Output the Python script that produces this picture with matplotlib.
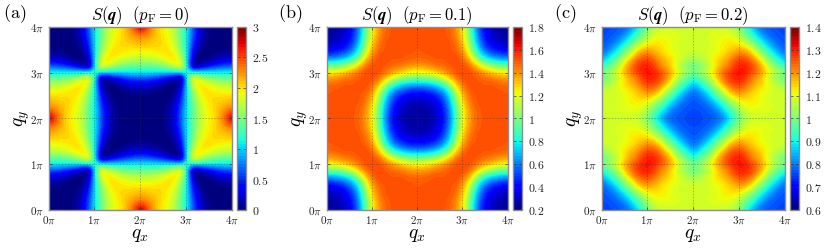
import numpy as np
import matplotlib
matplotlib.use("Agg")
import matplotlib.pyplot as plt

plt.rcParams['mathtext.fontset'] = 'cm'
plt.rcParams['font.family'] = 'serif'
plt.rcParams['font.serif'] = ['cmr10', 'DejaVu Serif']
plt.rcParams['axes.formatter.use_mathtext'] = True
plt.rcParams['axes.unicode_minus'] = False

# S(q) lu sur l'image, pas de pi/8 : lignes qy=0..pi, colonnes qx=0..2pi
# (le reste de la carte vient des symetries de la figure)
S_a = [
    [0, 0, 0, .02, .05, .13, .33, .68, 1.1, 1.38, 1.67, 1.85, 1.95, 2.05, 2.25, 2.55, 2.95],
    [0, 0, 0, .01, .04, .12, .31, .65, 1.1, 1.38, 1.68, 1.86, 1.95, 2.05, 2.2, 2.4, 2.55],
    [0, 0, 0, .005, .03, .1, .27, .6, 1.1, 1.4, 1.71, 1.88, 1.98, 2.05, 2.15, 2.2, 2.25],
    [.02, .01, .005, 0, .01, .06, .2, .52, 1.1, 1.445, 1.76, 1.92, 2.0, 2.05, 2.05, 2.1, 2.15],
    [.05, .04, .03, .01, 0, .02, .12, .42, 1.1, 1.51, 1.84, 1.97, 2.02, 2.0, 2.0, 2.0, 2.0],
    [.13, .12, .1, .06, .02, 0, .04, .3, 1.1, 1.625, 1.93, 2.02, 1.97, 1.92, 1.88, 1.86, 1.85],
    [.33, .31, .27, .2, .12, .04, 0, .14, 1.1, 1.81, 2.02, 1.93, 1.84, 1.76, 1.71, 1.68, 1.67],
    [.68, .65, .6, .52, .42, .3, .14, 0, 1.1, 2.0, 1.81, 1.625, 1.51, 1.445, 1.4, 1.38, 1.38],
    [1.1, 1.1, 1.1, 1.1, 1.1, 1.1, 1.1, 1.1, 1.3, 1.1, 1.1, 1.1, 1.1, 1.1, 1.1, 1.1, 1.1],
]
S_b = [
    [.25, .25, .27, .3, .37, .5, .7, 1.0, 1.23, 1.37, 1.46, 1.5, 1.5, 1.52, 1.5, 1.52, 1.52],
    [.25, .26, .27, .31, .38, .51, .72, 1.0, 1.24, 1.38, 1.47, 1.5, 1.52, 1.5, 1.52, 1.5, 1.5],
    [.27, .27, .29, .33, .4, .54, .76, 1.02, 1.27, 1.4, 1.48, 1.5, 1.52, 1.54, 1.5, 1.52, 1.5],
    [.3, .31, .33, .37, .45, .59, .8, 1.08, 1.31, 1.44, 1.5, 1.52, 1.5, 1.52, 1.5, 1.5, 1.5],
    [.37, .38, .4, .45, .53, .67, .88, 1.15, 1.36, 1.46, 1.5, 1.5, 1.54, 1.5, 1.52, 1.5, 1.5],
    [.5, .51, .54, .59, .67, .8, 1.0, 1.24, 1.42, 1.5, 1.52, 1.52, 1.5, 1.52, 1.5, 1.5, 1.5],
    [.72, .73, .76, .8, .88, 1.0, 1.2, 1.38, 1.48, 1.52, 1.54, 1.5, 1.5, 1.5, 1.48, 1.47, 1.46],
    [1.0, 1.0, 1.02, 1.08, 1.15, 1.24, 1.38, 1.47, 1.52, 1.52, 1.5, 1.48, 1.45, 1.44, 1.4, 1.38, 1.37],
    [1.23, 1.24, 1.27, 1.31, 1.36, 1.42, 1.48, 1.52, 1.53, 1.52, 1.48, 1.42, 1.36, 1.31, 1.27, 1.24, 1.23],
]
S_c = [
    [.76, .76, .76, .77, .78, .8, .86, .92, 1.0, 1.04, 1.07, 1.08, 1.08, 1.08, 1.08, 1.08, 1.08],
    [.76, .76, .77, .78, .8, .85, .91, .97, 1.03, 1.07, 1.09, 1.09, 1.09, 1.09, 1.08, 1.08, 1.08],
    [.76, .77, .78, .8, .84, .9, .96, 1.01, 1.06, 1.1, 1.11, 1.11, 1.1, 1.09, 1.09, 1.08, 1.08],
    [.77, .78, .8, .84, .9, .96, 1.02, 1.07, 1.12, 1.13, 1.13, 1.12, 1.1, 1.09, 1.08, 1.08, 1.08],
    [.78, .8, .84, .9, .97, 1.03, 1.1, 1.16, 1.18, 1.16, 1.14, 1.12, 1.1, 1.09, 1.08, 1.08, 1.08],
    [.8, .85, .9, .96, 1.03, 1.1, 1.18, 1.22, 1.23, 1.2, 1.17, 1.14, 1.12, 1.1, 1.08, 1.07, 1.06],
    [.86, .91, .96, 1.02, 1.1, 1.18, 1.24, 1.27, 1.28, 1.25, 1.2, 1.17, 1.14, 1.1, 1.07, 1.04, 1.02],
    [.92, .97, 1.01, 1.07, 1.16, 1.22, 1.27, 1.3, 1.3, 1.28, 1.22, 1.19, 1.14, 1.08, 1.03, 1.0, .97],
    [1.0, 1.03, 1.06, 1.12, 1.18, 1.23, 1.27, 1.3, 1.31, 1.3, 1.27, 1.23, 1.18, 1.12, 1.06, 1.03, 1.0],
]

titles = [r"$S(\boldsymbol{q})\ \ (p_{\mathrm{F}}{=}0)$",
          r"$S(\boldsymbol{q})\ \ (p_{\mathrm{F}}{=}0.1)$",
          r"$S(\boldsymbol{q})\ \ (p_{\mathrm{F}}{=}0.2)$"]
letters = ["(a)", "(b)", "(c)"]
pi_ticks = [0, 1, 2, 3, 4]
pi_labels = [r"$0\pi$", r"$1\pi$", r"$2\pi$", r"$3\pi$", r"$4\pi$"]
cb_ticks = [[0, .5, 1, 1.5, 2, 2.5, 3],
            [.2, .4, .6, .8, 1, 1.2, 1.4, 1.6, 1.8],
            [.6, .7, .8, .9, 1, 1.1, 1.2, 1.3, 1.4]]
cb_labels = [["0", "0.5", "1", "1.5", "2", "2.5", "3"],
             ["0.2", "0.4", "0.6", "0.8", "1", "1.2", "1.4", "1.6", "1.8"],
             ["0.6", "0.7", "0.8", "0.9", "1", "1.1", "1.2", "1.3", "1.4"]]
vmins = [0, .2, .6]
vmaxs = [3, 1.8, 1.4]

W, H = 830, 249
# positions en pixels : x0, x1, cbar x0, cbar x1, lettre x
panels = [(48.5, 232, 236.5, 246, 3),
          (326.5, 507.5, 512.5, 521.5, 278),
          (601.5, 785, 789.5, 799, 554)]
y_top, y_bot = 27, 210


def px_axes(fig, x0, x1):
    return fig.add_axes([x0/W, 1-y_bot/H, (x1-x0)/W, (y_bot-y_top)/H])


def full_map(rows):
    # symetries de la figure : (qx,qy) -> (2pi-qx,2pi-qy), puis miroirs en 2pi
    r = np.array(rows, dtype=float)
    q = np.vstack([r, r[-2::-1, ::-1]])
    q = np.hstack([q, q[:, -2::-1]])
    return np.vstack([q, q[-2::-1, :]])


fig = plt.figure(figsize=(W/100, H/100), dpi=100)
cmap = plt.get_cmap('jet', 64)
grey = '#8c8c8c'

for i, rows in enumerate([S_a, S_b, S_c]):
    x0, x1, cx0, cx1, lx = panels[i]
    ax = px_axes(fig, x0, x1)
    im = ax.imshow(full_map(rows), origin='lower', cmap=cmap, vmin=vmins[i], vmax=vmaxs[i],
                   extent=[-1/16, 4+1/16, -1/16, 4+1/16], interpolation='bicubic', aspect='auto')
    ax.set_xlim(0, 4)
    ax.set_ylim(0, 4)
    ax.set_xticks(pi_ticks)
    ax.set_yticks(pi_ticks)
    ax.set_xticklabels(pi_labels, fontsize=8, color='#222222')
    ax.set_yticklabels(pi_labels, fontsize=8, color='#222222')
    ax.tick_params(direction='in', length=2, width=.5, color='#333333', pad=3,
                   top=True, right=True)
    ax.grid(True, color='#333333', lw=.4, ls=(0, (3, 2.5)), alpha=.55)
    for s in ax.spines.values():
        s.set_color(grey)
        s.set_linewidth(1)
    ax.set_xlabel(r"$q_x$", fontsize=14, labelpad=0)
    ax.set_ylabel(r"$q_y$", fontsize=14, labelpad=-1)
    ax.set_title(titles[i], fontsize=12, pad=5)
    fig.text(lx/W, 1-14/H, "$\\mathrm{" + letters[i] + "}$", fontsize=13, va='center')

    cax = px_axes(fig, cx0, cx1)
    cb = fig.colorbar(im, cax=cax)
    cb.set_ticks(cb_ticks[i])
    cb.set_ticklabels(["$" + s + "$" for s in cb_labels[i]], fontsize=8.5, color='#222222')
    cax.tick_params(direction='in', length=2, width=.5, color='#333333', pad=4.5,
                    left=True, right=True)
    cb.outline.set_edgecolor(grey)
    cb.outline.set_linewidth(1)

fig.savefig("out.png", dpi=100)
